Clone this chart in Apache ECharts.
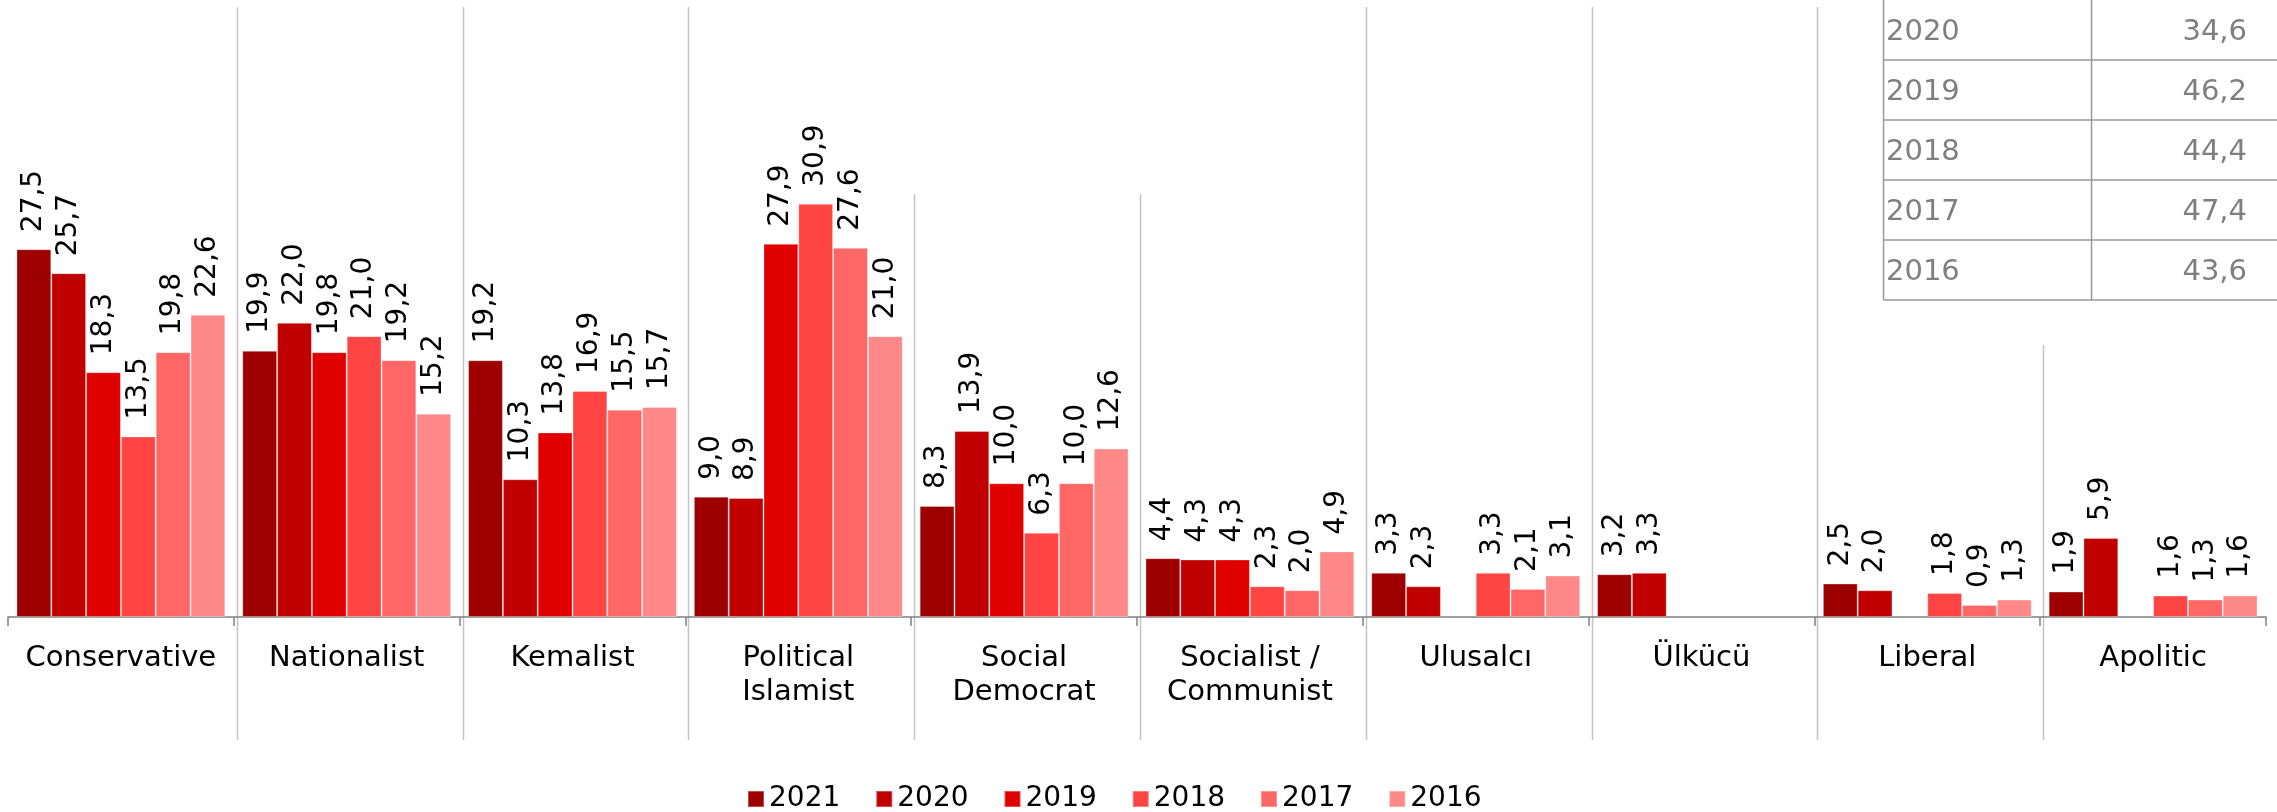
<!DOCTYPE html>
<html>
<head>
<meta charset="utf-8">
<title>Ideology by year</title>
<script src="https://cdn.jsdelivr.net/npm/echarts@6/dist/echarts.min.js"></script>
<style>
  html, body { margin: 0; padding: 0; background: #fff; }
  #IdeologyChart { width: 2277px; height: 812px; }
</style>
</head>
<body>
<div id="IdeologyChart"></div>
<script>
// kategoriler ve yıllar
const categories = ['Conservative', 'Nationalist', 'Kemalist', 'Political\nIslamist', 'Social\nDemocrat',
  'Socialist /\nCommunist', 'Ulusalcı', 'Ülkücü', 'Liberal', 'Apolitic'];
const years = ['2021', '2020', '2019', '2018', '2017', '2016'];
const yearColors = ['#9e0000', '#c00000', '#e00000', '#ff4444', '#ff6666', '#ff8888'];

// yüzde değerleri, '-' = veri yok
const values2021 = [27.5, 19.9, 19.2, 9.0, 8.3, 4.4, 3.3, 3.2, 2.5, 1.9];
const values2020 = [25.7, 22.0, 10.3, 8.9, 13.9, 4.3, 2.3, 3.3, 2.0, 5.9];
const values2019 = [18.3, 19.8, 13.8, 27.9, 10.0, 4.3, '-', '-', '-', '-'];
const values2018 = [13.5, 21.0, 16.9, 30.9, 6.3, 2.3, 3.3, '-', 1.8, 1.6];
const values2017 = [19.8, 19.2, 15.5, 27.6, 10.0, 2.0, 2.1, '-', 0.9, 1.3];
const values2016 = [22.6, 15.2, 15.7, 21.0, 12.6, 4.9, 3.1, '-', 1.3, 1.6];
const seriesValues = [values2021, values2020, values2019, values2018, values2017, values2016];

// sağ üstteki tablo
const tableYears = ['2020', '2019', '2018', '2017', '2016'];
const tableValues = [34.6, 46.2, 44.4, 47.4, 43.6];

const FONT = 'DejaVu Sans';
const fmt = v => Number(v).toFixed(1).replace('.', ',');

let chart = echarts.init(document.getElementById('IdeologyChart'));
chart.setOption({
  animation: false,
  legend: {
    data: years,
    left: 742,
    top: 780,
    icon: 'rect',
    itemWidth: 16,
    itemHeight: 16,
    itemGap: 35,
    textStyle: { fontFamily: FONT, fontSize: 28, color: '#000' }
  },
  grid: {
    left: 8,
    right: 11,
    top: 82,
    bottom: 195  // eksen çizgisi y=617
  },
  xAxis: {
    type: 'category',
    data: categories,
    axisLine: { lineStyle: { color: '#808080', width: 1.5 } },
    axisTick: { show: true, length: 9, lineStyle: { color: '#808080', width: 1.5 } },
    axisLabel: {
      interval: 0,
      margin: 24,
      fontFamily: FONT,
      fontSize: 29,
      lineHeight: 34,
      color: '#000'
    },
    splitLine: { show: false }
  },
  yAxis: {
    type: 'value',
    min: 0,
    max: 40,
    show: false
  },
  series: years.map((y, i) => ({
    name: y,
    type: 'bar',
    data: seriesValues[i],
    barGap: '0%',
    barCategoryGap: '7.5%',
    itemStyle: {
      color: yearColors[i],
      borderColor: 'rgba(255,255,255,0.3)',
      borderWidth: 1
    },
    label: {
      show: true,
      position: 'top',
      rotate: 90,
      align: 'left',
      verticalAlign: 'middle',
      distance: 17,
      fontFamily: FONT,
      fontSize: 28,
      color: '#000',
      formatter: p => fmt(p.value)
    }
  }))
});

// kategori ayırıcı gri çizgiler + tablo
function drawExtras() {
  let c0 = chart.convertToPixel({ xAxisIndex: 0 }, 0);
  let c1 = chart.convertToPixel({ xAxisIndex: 0 }, 1);
  let band = c1 - c0;
  let sepTops = [7, 7, 7, 194, 194, 7, 7, 7, 345];
  let elements = [];
  for (let i = 1; i < categories.length; i++) {
    let x = Math.round(c0 + (i - 0.5) * band) + 3.5;
    elements.push({
      type: 'line',
      silent: true,
      shape: { x1: x, y1: sepTops[i - 1], x2: x, y2: 740 },
      style: { stroke: '#c4c4c4', lineWidth: 1.5 }
    });
  }

  // tablo
  let tLeft = 1883.5, tMid = 2091.5, rowH = 60;
  let tBottom = rowH * tableYears.length;
  let tFont = '29px "' + FONT + '"';
  elements.push({ type: 'rect', silent: true, shape: { x: tLeft, y: 0, width: 2277 - tLeft, height: tBottom }, style: { fill: '#fff' }, z: 10 });
  elements.push({ type: 'line', silent: true, z: 11, shape: { x1: tLeft, y1: 0, x2: tLeft, y2: tBottom }, style: { stroke: '#999', lineWidth: 1.5 } });
  elements.push({ type: 'line', silent: true, z: 11, shape: { x1: tMid, y1: 0, x2: tMid, y2: tBottom }, style: { stroke: '#999', lineWidth: 1.5 } });
  tableYears.forEach((yr, i) => {
    let yLine = rowH * (i + 1);
    elements.push({ type: 'line', silent: true, z: 11, shape: { x1: tLeft, y1: yLine, x2: 2277, y2: yLine }, style: { stroke: '#999', lineWidth: 1.5 } });
    elements.push({
      type: 'text', silent: true, z: 11,
      style: { text: yr, x: 1886, y: rowH * i + 32, fill: '#7f7f7f', font: tFont, textAlign: 'left', textVerticalAlign: 'middle' }
    });
    elements.push({
      type: 'text', silent: true, z: 11,
      style: { text: fmt(tableValues[i]), x: 2247, y: rowH * i + 32, fill: '#7f7f7f', font: tFont, textAlign: 'right', textVerticalAlign: 'middle' }
    });
  });
  chart.setOption({ graphic: { elements: elements } });
}
drawExtras();
</script>
</body>
</html>
